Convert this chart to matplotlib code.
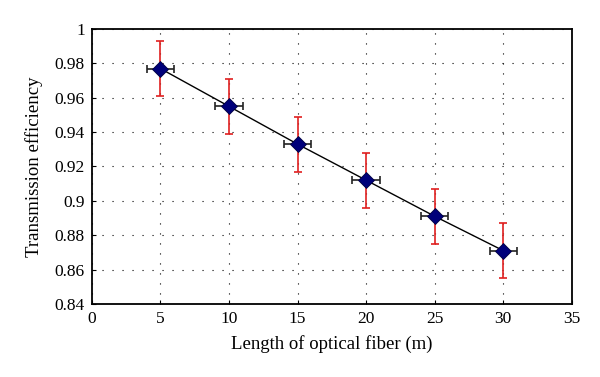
import matplotlib.pyplot as plt

plt.rcParams['font.family'] = ['Liberation Serif', 'DejaVu Serif']

length = [5, 10, 15, 20, 25, 30]
efficiency = [0.977, 0.955, 0.933, 0.912, 0.891, 0.871]
eff_err = [0.016, 0.016, 0.016, 0.016, 0.016, 0.016]
len_err = [1.0, 1.0, 1.0, 1.0, 1.0, 1.0]

fig = plt.figure(figsize=(6, 3.77), dpi=100)
ax = fig.add_axes([0.153, 0.194, 0.8, 0.729])

ax.plot(length, efficiency, color='black', lw=1.0, zorder=2)
ax.errorbar(length, efficiency, yerr=eff_err, fmt='none', ecolor='#e02020',
            elinewidth=1.2, capsize=3, capthick=1.2, zorder=3)
ax.errorbar(length, efficiency, xerr=len_err, fmt='none', ecolor='#222222',
            elinewidth=1.2, capsize=3, capthick=1.2, zorder=3)
ax.plot(length, efficiency, 'D', color='#00007a', markersize=8,
        markeredgecolor='#000040', markeredgewidth=0.6, zorder=4)

ax.set_xlim(0, 35)
ax.set_ylim(0.84, 1.0)
ax.set_xticks(range(0, 36, 5))
ax.set_yticks([0.84, 0.86, 0.88, 0.9, 0.92, 0.94, 0.96, 0.98, 1.0])
ax.set_yticklabels(['0.84', '0.86', '0.88', '0.9', '0.92', '0.94', '0.96', '0.98', '1'])
ax.grid(True, color='black', linestyle=(0, (1, 8)), linewidth=0.8)
ax.tick_params(direction='in', labelsize=12.5, length=3, pad=5)
for s in ax.spines.values():
    s.set_linewidth(1.3)

ax.set_xlabel('Length of optical fiber (m)', fontsize=13.5, labelpad=6)
ax.set_ylabel('Transmission efficiency', fontsize=13.5, labelpad=8)

fig.savefig('out.png', dpi=100)
